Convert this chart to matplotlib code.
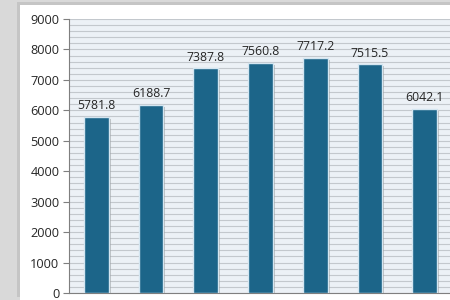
import matplotlib
matplotlib.use("Agg")
import matplotlib.pyplot as plt
import matplotlib.patches as mpatches
import matplotlib.patheffects as pe
import numpy as np

categories = ["1", "2", "3", "4", "5", "6", "7"]
values = [5781.8, 6188.7, 7387.8, 7560.8, 7717.2, 7515.5, 6042.1]
yticks = [0, 1000, 2000, 3000, 4000, 5000, 6000, 7000, 8000, 9000]

fig = plt.figure(figsize=(4.5, 3.0), dpi=100, facecolor="#d9d9d9")
# white panel
panel = mpatches.Rectangle((20/450, 0), 1.0, (300-5)/300, transform=fig.transFigure,
                           facecolor="white", edgecolor="none", zorder=-10)
panel.set_path_effects([pe.SimplePatchShadow(offset=(-2, 2), shadow_rgbFace="#b8b8b8", alpha=0.6), pe.Normal()])
fig.patches.append(panel)

ax = fig.add_axes([69/450, 7/300, 383/450, 274/300])
ax.set_zorder(5)
ax.set_facecolor("#ecf1f6")
x = np.arange(len(categories))
bars = ax.bar(x, values, width=0.45, color="#1c6589", edgecolor="#d4e6f1", linewidth=1.0, zorder=3)
for b in bars:
    b.set_path_effects([pe.SimplePatchShadow(offset=(1.5, -1.5), shadow_rgbFace="#888888", alpha=0.5), pe.Normal()])
for xi, v in zip(x, values):
    ax.text(xi, v + 150, f"{v:.1f}", ha="center", va="bottom", fontsize=8.8, color="#262626",
            family="Open Sans", zorder=4)

ax.set_xlim(-0.5, len(categories) - 0.5)
ax.set_ylim(0, 9000)
ax.set_yticks(yticks)
ax.set_yticklabels([str(t) for t in yticks], fontsize=9.2, color="#262626", family="Open Sans")
ax.set_yticks(np.arange(0, 9001, 200), minor=True)
ax.yaxis.grid(True, which="both", color="#c3c8cd", linewidth=0.8, zorder=0)
ax.set_axisbelow(True)
ax.set_xticks([])
ax.tick_params(axis="y", which="major", length=4, color="#7f7f7f", pad=3)
ax.tick_params(axis="y", which="minor", length=0)
for s in ["top", "right"]:
    ax.spines[s].set_visible(False)
ax.spines["left"].set_color("#7f7f7f")
ax.spines["bottom"].set_color("#7f7f7f")

fig.savefig("out.png", dpi=100, facecolor=fig.get_facecolor())
